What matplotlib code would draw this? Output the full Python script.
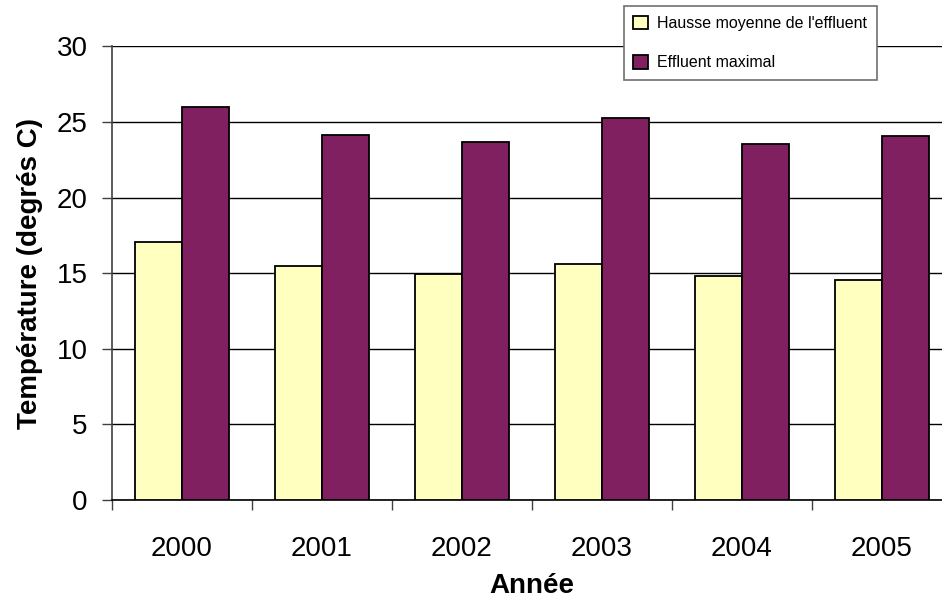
import numpy as np
import matplotlib
matplotlib.use("Agg")
import matplotlib.pyplot as plt
from matplotlib.patches import Patch

plt.rcParams['font.family'] = ['Liberation Sans', 'DejaVu Sans']

# Temperatures by year (degrees C)
years = ['2000', '2001', '2002', '2003', '2004', '2005']
hausse_moyenne = [17.05, 15.45, 14.95, 15.6, 14.8, 14.55]
effluent_max = [26.0, 24.15, 23.65, 25.25, 23.55, 24.05]

yellow = '#FFFFC0'
purple = '#802060'

fig = plt.figure(figsize=(9.42, 5.98), dpi=100)
# axes run slightly past the right edge of the figure
ax = fig.add_axes([112 / 942, 1 - 500 / 598, 840 / 942, 453.7 / 598])

x = np.arange(len(years))
w = 1 / 3
ax.bar(x - w / 2, hausse_moyenne, w, color=yellow, edgecolor='black',
       linewidth=1.3, zorder=3)
ax.bar(x + w / 2, effluent_max, w, color=purple, edgecolor='black',
       linewidth=1.3, zorder=3)

ax.set_xlim(-0.5, len(years) - 0.5)
ax.set_ylim(0, 30)
ax.set_yticks(range(0, 31, 5))
ax.yaxis.grid(True, color='black', linewidth=1.0, zorder=0)
ax.set_axisbelow(True)

# ticks sit on category boundaries, labels in the middle
ax.set_xticks(np.arange(len(years) + 1) - 0.5)
ax.set_xticklabels([])
ax.set_xticks(x, minor=True)
ax.set_xticklabels(years, minor=True)
ax.tick_params(axis='x', which='minor', length=0, pad=26, labelsize=20)
ax.tick_params(axis='x', which='major', length=7.5, width=1, color='#404040')
ax.tick_params(axis='y', length=7.5, width=1, color='#404040', pad=10,
               labelsize=20)

for side in ['top', 'right']:
    ax.spines[side].set_visible(False)
ax.spines['left'].set_color('#404040')
ax.spines['left'].set_linewidth(1.2)
ax.spines['bottom'].set_color('black')
ax.spines['bottom'].set_linewidth(1.2)

ax.set_xlabel('Année', fontsize=20, fontweight='bold', labelpad=8)
ax.set_ylabel('Température (degrés C)', fontsize=20, fontweight='bold',
              labelpad=10)

handles = [Patch(facecolor=yellow, edgecolor='black', linewidth=1.3),
           Patch(facecolor=purple, edgecolor='black', linewidth=1.3)]
leg = ax.legend(handles, ['Hausse moyenne de l\'effluent', 'Effluent maximal'],
                loc='upper left', bbox_to_anchor=(623.7 / 942, 1 - 6 / 598),
                bbox_transform=fig.transFigure, fontsize=11.5,
                frameon=True, fancybox=False, framealpha=1,
                edgecolor='#707070', borderpad=0.6, labelspacing=1.5,
                handlelength=0.95, handleheight=0.95, handletextpad=0.55,
                borderaxespad=0)
leg.get_frame().set_linewidth(1.2)
leg.set_zorder(5)

fig.savefig('out.png', dpi=100)
